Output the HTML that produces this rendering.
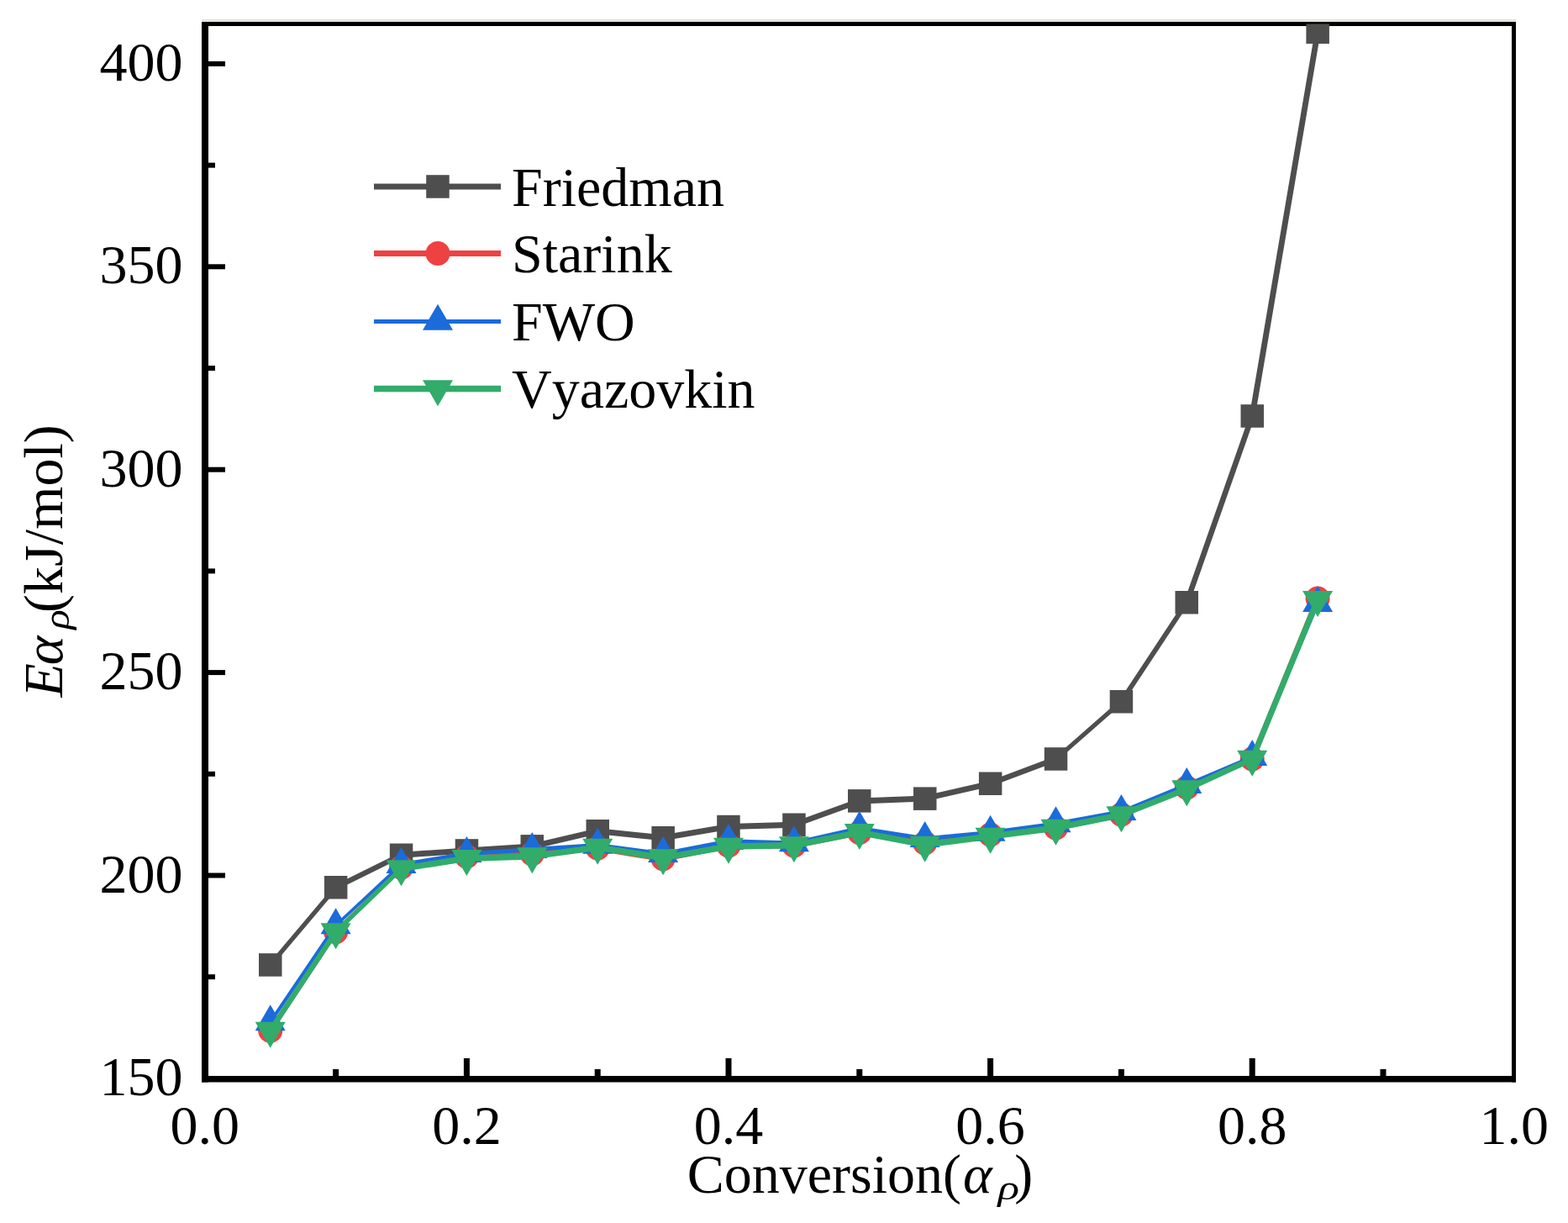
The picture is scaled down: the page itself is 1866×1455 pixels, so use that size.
<!DOCTYPE html>
<html><head><meta charset="utf-8"><title>Eα vs Conversion</title>
<style>
html,body{margin:0;padding:0;background:#fff;}
body{width:1866px;height:1455px;overflow:hidden;}
svg{display:block;}
.t{font-family:"Liberation Serif","Times New Roman",serif;font-size:66px;fill:#000;font-kerning:none;}
</style></head>
<body>
<svg width="1866" height="1455" viewBox="0 0 1866 1455">
<defs><clipPath id="pc"><rect x="240" y="28.4" width="1564" height="1259"/></clipPath></defs>
<rect width="1866" height="1455" fill="#fff"/>
<rect x="240" y="22.8" width="1564" height="3.2" fill="#e5e5de"/>
<rect x="247" y="1159.2" width="9" height="6" fill="#000"/>
<rect x="247" y="1038.5" width="21" height="6" fill="#000"/>
<rect x="247" y="917.8" width="9" height="6" fill="#000"/>
<rect x="247" y="797.1" width="21" height="6" fill="#000"/>
<rect x="247" y="676.4" width="9" height="6" fill="#000"/>
<rect x="247" y="555.7" width="21" height="6" fill="#000"/>
<rect x="247" y="435.0" width="9" height="6" fill="#000"/>
<rect x="247" y="314.3" width="21" height="6" fill="#000"/>
<rect x="247" y="193.6" width="9" height="6" fill="#000"/>
<rect x="247" y="72.9" width="21" height="6" fill="#000"/>
<rect x="396.1" y="1272" width="7" height="9" fill="#000"/>
<rect x="551.9" y="1259" width="7" height="22" fill="#000"/>
<rect x="707.7" y="1272" width="7" height="9" fill="#000"/>
<rect x="863.5" y="1259" width="7" height="22" fill="#000"/>
<rect x="1019.3" y="1272" width="7" height="9" fill="#000"/>
<rect x="1175.1" y="1259" width="7" height="22" fill="#000"/>
<rect x="1330.9" y="1272" width="7" height="9" fill="#000"/>
<rect x="1486.7" y="1259" width="7" height="22" fill="#000"/>
<rect x="1642.5" y="1272" width="7" height="9" fill="#000"/>
<text x="217.5" y="1302.9" text-anchor="end" class="t">150</text>
<text x="217.5" y="1061.5" text-anchor="end" class="t">200</text>
<text x="217.5" y="820.1" text-anchor="end" class="t">250</text>
<text x="217.5" y="578.7" text-anchor="end" class="t">300</text>
<text x="217.5" y="337.3" text-anchor="end" class="t">350</text>
<text x="217.5" y="95.9" text-anchor="end" class="t">400</text>
<text x="243.8" y="1361" text-anchor="middle" class="t">0.0</text>
<text x="555.4" y="1361" text-anchor="middle" class="t">0.2</text>
<text x="867.0" y="1361" text-anchor="middle" class="t">0.4</text>
<text x="1178.6" y="1361" text-anchor="middle" class="t">0.6</text>
<text x="1490.2" y="1361" text-anchor="middle" class="t">0.8</text>
<text x="1801.8" y="1361" text-anchor="middle" class="t">1.0</text>
<rect x="240" y="26" width="1564" height="5" fill="#000"/>
<g clip-path="url(#pc)">
<path d="M318.2,1148.0 L396.1,1055.8 L403.1,1055.8 L325.2,1148.0Z M399.6,1052.3 L477.5,1013.7 L477.5,1020.7 L399.6,1059.3Z M477.5,1013.7 L555.4,1008.5 L555.4,1015.5 L477.5,1020.7Z M555.4,1008.5 L633.3,1003.4 L633.3,1010.4 L555.4,1015.5Z M633.3,1003.4 L711.2,985.3 L711.2,992.3 L633.3,1010.4Z M711.2,985.3 L789.1,993.2 L789.1,1000.2 L711.2,992.3Z M789.1,993.2 L867.0,980.0 L867.0,987.0 L789.1,1000.2Z M867.0,980.0 L944.9,977.8 L944.9,984.8 L867.0,987.0Z M944.9,977.8 L1022.8,949.4 L1022.8,956.4 L944.9,984.8Z M1022.8,949.4 L1100.7,946.6 L1100.7,953.6 L1022.8,956.4Z M1100.7,946.6 L1178.6,928.8 L1178.6,935.8 L1100.7,953.6Z M1178.6,928.8 L1256.5,899.5 L1256.5,906.5 L1178.6,935.8Z M1256.5,899.5 L1334.4,831.3 L1334.4,838.3 L1256.5,906.5Z M1330.9,834.8 L1408.8,716.8 L1415.8,716.8 L1337.9,834.8Z M1408.8,716.8 L1486.7,495.0 L1493.7,495.0 L1415.8,716.8Z M1486.7,495.0 L1564.6,38.2 L1571.6,38.2 L1493.7,495.0Z M396.1,1052.3 h7 v7 h-7Z M474.0,1013.7 h7 v7 h-7Z M551.9,1008.5 h7 v7 h-7Z M629.8,1003.4 h7 v7 h-7Z M707.7,985.3 h7 v7 h-7Z M785.6,993.2 h7 v7 h-7Z M863.5,980.0 h7 v7 h-7Z M941.4,977.8 h7 v7 h-7Z M1019.3,949.4 h7 v7 h-7Z M1097.2,946.6 h7 v7 h-7Z M1175.1,928.8 h7 v7 h-7Z M1253.0,899.5 h7 v7 h-7Z M1330.9,831.3 h7 v7 h-7Z M1408.8,713.3 h7 v7 h-7Z M1486.7,491.5 h7 v7 h-7Z" fill="#4e4e4e"/>
<rect x="308.0" y="1134.2" width="27.5" height="27.5" fill="#4e4e4e"/>
<rect x="385.9" y="1042.0" width="27.5" height="27.5" fill="#4e4e4e"/>
<rect x="463.8" y="1003.5" width="27.5" height="27.5" fill="#4e4e4e"/>
<rect x="541.7" y="998.2" width="27.5" height="27.5" fill="#4e4e4e"/>
<rect x="619.5" y="993.1" width="27.5" height="27.5" fill="#4e4e4e"/>
<rect x="697.5" y="975.0" width="27.5" height="27.5" fill="#4e4e4e"/>
<rect x="775.4" y="983.0" width="27.5" height="27.5" fill="#4e4e4e"/>
<rect x="853.2" y="969.8" width="27.5" height="27.5" fill="#4e4e4e"/>
<rect x="931.2" y="967.5" width="27.5" height="27.5" fill="#4e4e4e"/>
<rect x="1009.0" y="939.1" width="27.5" height="27.5" fill="#4e4e4e"/>
<rect x="1087.0" y="936.4" width="27.5" height="27.5" fill="#4e4e4e"/>
<rect x="1164.9" y="918.5" width="27.5" height="27.5" fill="#4e4e4e"/>
<rect x="1242.8" y="889.2" width="27.5" height="27.5" fill="#4e4e4e"/>
<rect x="1320.7" y="821.0" width="27.5" height="27.5" fill="#4e4e4e"/>
<rect x="1398.5" y="703.0" width="27.5" height="27.5" fill="#4e4e4e"/>
<rect x="1476.5" y="481.2" width="27.5" height="27.5" fill="#4e4e4e"/>
<rect x="1554.4" y="24.5" width="27.5" height="27.5" fill="#4e4e4e"/>
<path d="M318.2,1226.3 L396.1,1108.7 L403.1,1108.7 L325.2,1226.3Z M399.6,1105.2 L477.5,1028.5 L477.5,1035.5 L399.6,1112.2Z M477.5,1028.5 L555.4,1015.5 L555.4,1022.5 L477.5,1035.5Z M555.4,1015.5 L633.3,1012.5 L633.3,1019.5 L555.4,1022.5Z M633.3,1012.5 L711.2,1005.5 L711.2,1012.5 L633.3,1019.5Z M711.2,1005.5 L789.1,1018.3 L789.1,1025.3 L711.2,1012.5Z M789.1,1018.3 L867.0,1002.5 L867.0,1009.5 L789.1,1025.3Z M867.0,1002.5 L944.9,1002.5 L944.9,1009.5 L867.0,1009.5Z M944.9,1002.5 L1022.8,987.1 L1022.8,994.1 L944.9,1009.5Z M1022.8,987.1 L1100.7,999.5 L1100.7,1006.5 L1022.8,994.1Z M1100.7,999.5 L1178.6,989.5 L1178.6,996.5 L1100.7,1006.5Z M1178.6,989.5 L1256.5,981.5 L1256.5,988.5 L1178.6,996.5Z M1256.5,981.5 L1334.4,965.5 L1334.4,972.5 L1256.5,988.5Z M1334.4,965.5 L1412.3,933.5 L1412.3,940.5 L1334.4,972.5Z M1412.3,933.5 L1490.2,899.5 L1490.2,906.5 L1412.3,940.5Z M1486.7,903.0 L1564.6,712.1 L1571.6,712.1 L1493.7,903.0Z M396.1,1105.2 h7 v7 h-7Z M474.0,1028.5 h7 v7 h-7Z M551.9,1015.5 h7 v7 h-7Z M629.8,1012.5 h7 v7 h-7Z M707.7,1005.5 h7 v7 h-7Z M785.6,1018.3 h7 v7 h-7Z M863.5,1002.5 h7 v7 h-7Z M941.4,1002.5 h7 v7 h-7Z M1019.3,987.1 h7 v7 h-7Z M1097.2,999.5 h7 v7 h-7Z M1175.1,989.5 h7 v7 h-7Z M1253.0,981.5 h7 v7 h-7Z M1330.9,965.5 h7 v7 h-7Z M1408.8,933.5 h7 v7 h-7Z M1486.7,899.5 h7 v7 h-7Z" fill="#ee4242"/>
<circle cx="321.7" cy="1226.3" r="14.5" fill="#ee4242"/>
<circle cx="399.6" cy="1108.7" r="14.5" fill="#ee4242"/>
<circle cx="477.5" cy="1032.0" r="14.5" fill="#ee4242"/>
<circle cx="555.4" cy="1019.0" r="14.5" fill="#ee4242"/>
<circle cx="633.3" cy="1016.0" r="14.5" fill="#ee4242"/>
<circle cx="711.2" cy="1009.0" r="14.5" fill="#ee4242"/>
<circle cx="789.1" cy="1021.8" r="14.5" fill="#ee4242"/>
<circle cx="867.0" cy="1006.0" r="14.5" fill="#ee4242"/>
<circle cx="944.9" cy="1006.0" r="14.5" fill="#ee4242"/>
<circle cx="1022.8" cy="990.6" r="14.5" fill="#ee4242"/>
<circle cx="1100.7" cy="1003.0" r="14.5" fill="#ee4242"/>
<circle cx="1178.6" cy="993.0" r="14.5" fill="#ee4242"/>
<circle cx="1256.5" cy="985.0" r="14.5" fill="#ee4242"/>
<circle cx="1334.4" cy="969.0" r="14.5" fill="#ee4242"/>
<circle cx="1412.3" cy="937.0" r="14.5" fill="#ee4242"/>
<circle cx="1490.2" cy="903.0" r="14.5" fill="#ee4242"/>
<circle cx="1568.1" cy="712.1" r="14.5" fill="#ee4242"/>
<path d="M319.2,1216.0 L397.1,1101.0 L402.1,1101.0 L324.2,1216.0Z M399.6,1098.5 L477.5,1026.1 L477.5,1031.1 L399.6,1103.5Z M477.5,1026.1 L555.4,1013.3 L555.4,1018.3 L477.5,1031.1Z M555.4,1013.3 L633.3,1008.1 L633.3,1013.1 L555.4,1018.3Z M633.3,1008.1 L711.2,1003.0 L711.2,1008.0 L633.3,1013.1Z M711.2,1003.0 L789.1,1013.2 L789.1,1018.2 L711.2,1008.0Z M789.1,1013.2 L867.0,998.2 L867.0,1003.2 L789.1,1018.2Z M867.0,998.2 L944.9,1000.5 L944.9,1005.5 L867.0,1003.2Z M944.9,1000.5 L1022.8,982.9 L1022.8,987.9 L944.9,1005.5Z M1022.8,982.9 L1100.7,995.3 L1100.7,1000.3 L1022.8,987.9Z M1100.7,995.3 L1178.6,988.0 L1178.6,993.0 L1100.7,1000.3Z M1178.6,988.0 L1256.5,977.5 L1256.5,982.5 L1178.6,993.0Z M1256.5,977.5 L1334.4,963.2 L1334.4,968.2 L1256.5,982.5Z M1334.4,963.2 L1412.3,931.3 L1412.3,936.3 L1334.4,968.2Z M1412.3,931.3 L1490.2,898.3 L1490.2,903.3 L1412.3,936.3Z M1487.7,900.8 L1565.6,717.6 L1570.6,717.6 L1492.7,900.8Z M397.1,1098.5 h5 v5 h-5Z M475.0,1026.1 h5 v5 h-5Z M552.9,1013.3 h5 v5 h-5Z M630.8,1008.1 h5 v5 h-5Z M708.7,1003.0 h5 v5 h-5Z M786.6,1013.2 h5 v5 h-5Z M864.5,998.2 h5 v5 h-5Z M942.4,1000.5 h5 v5 h-5Z M1020.3,982.9 h5 v5 h-5Z M1098.2,995.3 h5 v5 h-5Z M1176.1,988.0 h5 v5 h-5Z M1254.0,977.5 h5 v5 h-5Z M1331.9,963.2 h5 v5 h-5Z M1409.8,931.3 h5 v5 h-5Z M1487.7,898.3 h5 v5 h-5Z" fill="#1b6bdb"/>
<polygon points="321.7,1195.3 339.7,1226.3 303.7,1226.3" fill="#1b6bdb"/>
<polygon points="399.6,1080.3 417.6,1111.3 381.6,1111.3" fill="#1b6bdb"/>
<polygon points="477.5,1007.9 495.5,1038.9 459.5,1038.9" fill="#1b6bdb"/>
<polygon points="555.4,995.1 573.4,1026.1 537.4,1026.1" fill="#1b6bdb"/>
<polygon points="633.3,989.9 651.3,1020.9 615.3,1020.9" fill="#1b6bdb"/>
<polygon points="711.2,984.8 729.2,1015.8 693.2,1015.8" fill="#1b6bdb"/>
<polygon points="789.1,995.0 807.1,1026.0 771.1,1026.0" fill="#1b6bdb"/>
<polygon points="867.0,980.0 885.0,1011.0 849.0,1011.0" fill="#1b6bdb"/>
<polygon points="944.9,982.3 962.9,1013.3 926.9,1013.3" fill="#1b6bdb"/>
<polygon points="1022.8,964.7 1040.8,995.7 1004.8,995.7" fill="#1b6bdb"/>
<polygon points="1100.7,977.1 1118.7,1008.1 1082.7,1008.1" fill="#1b6bdb"/>
<polygon points="1178.6,969.8 1196.6,1000.8 1160.6,1000.8" fill="#1b6bdb"/>
<polygon points="1256.5,959.3 1274.5,990.3 1238.5,990.3" fill="#1b6bdb"/>
<polygon points="1334.4,945.0 1352.4,976.0 1316.4,976.0" fill="#1b6bdb"/>
<polygon points="1412.3,913.1 1430.3,944.1 1394.3,944.1" fill="#1b6bdb"/>
<polygon points="1490.2,880.1 1508.2,911.1 1472.2,911.1" fill="#1b6bdb"/>
<polygon points="1568.1,696.9 1586.1,727.9 1550.1,727.9" fill="#1b6bdb"/>
<path d="M318.0,1226.0 L395.9,1108.5 L403.4,1108.5 L325.5,1226.0Z M399.6,1104.8 L477.5,1029.8 L477.5,1037.2 L399.6,1112.2Z M477.5,1029.8 L555.4,1017.5 L555.4,1025.0 L477.5,1037.2Z M555.4,1017.5 L633.3,1014.9 L633.3,1022.4 L555.4,1025.0Z M633.3,1014.9 L711.2,1004.4 L711.2,1011.9 L633.3,1022.4Z M711.2,1004.4 L789.1,1016.9 L789.1,1024.3 L711.2,1011.9Z M789.1,1016.9 L867.0,1003.2 L867.0,1010.8 L789.1,1024.3Z M867.0,1003.2 L944.9,1001.9 L944.9,1009.4 L867.0,1010.8Z M944.9,1001.9 L1022.8,986.5 L1022.8,994.0 L944.9,1009.4Z M1022.8,986.5 L1100.7,1001.2 L1100.7,1008.8 L1022.8,994.0Z M1100.7,1001.2 L1178.6,991.2 L1178.6,998.8 L1100.7,1008.8Z M1178.6,991.2 L1256.5,981.2 L1256.5,988.8 L1178.6,998.8Z M1256.5,981.2 L1334.4,965.8 L1334.4,973.2 L1256.5,988.8Z M1334.4,965.8 L1412.3,934.9 L1412.3,942.4 L1334.4,973.2Z M1412.3,934.9 L1490.2,899.2 L1490.2,906.8 L1412.3,942.4Z M1486.5,903.0 L1564.4,713.2 L1571.9,713.2 L1494.0,903.0Z M395.9,1104.8 h7.5 v7.5 h-7.5Z M473.8,1029.8 h7.5 v7.5 h-7.5Z M551.7,1017.5 h7.5 v7.5 h-7.5Z M629.5,1014.9 h7.5 v7.5 h-7.5Z M707.5,1004.4 h7.5 v7.5 h-7.5Z M785.4,1016.9 h7.5 v7.5 h-7.5Z M863.2,1003.2 h7.5 v7.5 h-7.5Z M941.2,1001.9 h7.5 v7.5 h-7.5Z M1019.0,986.5 h7.5 v7.5 h-7.5Z M1097.0,1001.2 h7.5 v7.5 h-7.5Z M1174.9,991.2 h7.5 v7.5 h-7.5Z M1252.8,981.2 h7.5 v7.5 h-7.5Z M1330.7,965.8 h7.5 v7.5 h-7.5Z M1408.5,934.9 h7.5 v7.5 h-7.5Z M1486.5,899.2 h7.5 v7.5 h-7.5Z" fill="#31ac6b"/>
<polygon points="303.7,1215.7 339.7,1215.7 321.7,1246.7" fill="#31ac6b"/>
<polygon points="381.6,1098.2 417.6,1098.2 399.6,1129.2" fill="#31ac6b"/>
<polygon points="459.5,1023.2 495.5,1023.2 477.5,1054.2" fill="#31ac6b"/>
<polygon points="537.4,1010.9 573.4,1010.9 555.4,1041.9" fill="#31ac6b"/>
<polygon points="615.3,1008.3 651.3,1008.3 633.3,1039.3" fill="#31ac6b"/>
<polygon points="693.2,997.8 729.2,997.8 711.2,1028.8" fill="#31ac6b"/>
<polygon points="771.1,1010.3 807.1,1010.3 789.1,1041.3" fill="#31ac6b"/>
<polygon points="849.0,996.7 885.0,996.7 867.0,1027.7" fill="#31ac6b"/>
<polygon points="926.9,995.3 962.9,995.3 944.9,1026.3" fill="#31ac6b"/>
<polygon points="1004.8,980.0 1040.8,980.0 1022.8,1011.0" fill="#31ac6b"/>
<polygon points="1082.7,994.7 1118.7,994.7 1100.7,1025.7" fill="#31ac6b"/>
<polygon points="1160.6,984.7 1196.6,984.7 1178.6,1015.7" fill="#31ac6b"/>
<polygon points="1238.5,974.7 1274.5,974.7 1256.5,1005.7" fill="#31ac6b"/>
<polygon points="1316.4,959.2 1352.4,959.2 1334.4,990.2" fill="#31ac6b"/>
<polygon points="1394.3,928.3 1430.3,928.3 1412.3,959.3" fill="#31ac6b"/>
<polygon points="1472.2,892.7 1508.2,892.7 1490.2,923.7" fill="#31ac6b"/>
<polygon points="1550.1,702.9 1586.1,702.9 1568.1,733.9" fill="#31ac6b"/>
</g>
<rect x="240" y="26" width="8" height="1261.5" fill="#000"/>
<rect x="1799" y="26" width="5" height="1261.5" fill="#000"/>
<rect x="240" y="1280" width="1564" height="7.5" fill="#000"/>
<line x1="445" y1="222" x2="596" y2="222" stroke="#4e4e4e" stroke-width="7"/>
<rect x="507.2" y="208.2" width="27.5" height="27.5" fill="#4e4e4e"/>
<text x="609" y="244.5" class="t">Friedman</text>
<line x1="445" y1="301.5" x2="596" y2="301.5" stroke="#ee4242" stroke-width="7"/>
<circle cx="521.0" cy="301.5" r="14.5" fill="#ee4242"/>
<text x="609" y="324.0" class="t">Starink</text>
<line x1="445" y1="382.4" x2="596" y2="382.4" stroke="#1b6bdb" stroke-width="5"/>
<polygon points="521.0,361.7 539.0,392.7 503.0,392.7" fill="#1b6bdb"/>
<text x="609" y="404.9" class="t">FWO</text>
<line x1="445" y1="462.5" x2="596" y2="462.5" stroke="#31ac6b" stroke-width="7.5"/>
<polygon points="503.0,452.2 539.0,452.2 521.0,483.2" fill="#31ac6b"/>
<text x="609" y="485.0" class="t">Vyazovkin</text>
<text x="817.8" y="1419.2" class="t">Conversion(</text>
<text x="1146" y="1419.2" class="t" font-style="italic">α</text>
<text transform="translate(1187.6,1427) scale(1.3,1)" class="t" font-style="italic" style="font-size:41px">ρ</text>
<text x="1207.2" y="1419.2" class="t">)</text>
<g transform="translate(73.7,830.3) rotate(-90)">
<text x="0.8" y="0" class="t" font-style="italic">E</text>
<text x="39.1" y="0" class="t" font-style="italic">α</text>
<text transform="translate(81.5,8.6) scale(1.1,1)" class="t" font-style="italic" style="font-size:44.6px">ρ</text>
<text x="101.4" y="0" class="t">(kJ/mol)</text>
</g>
</svg>
</body></html>
